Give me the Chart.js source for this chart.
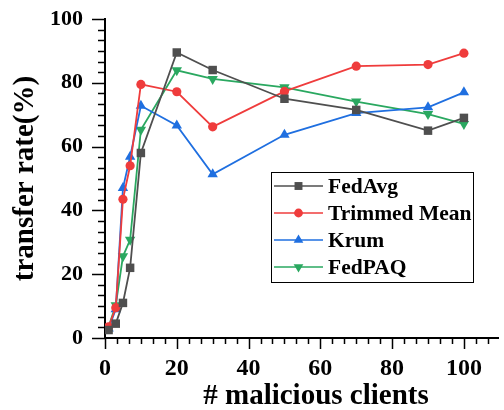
<!DOCTYPE html>
<html>
<head>
<meta charset="utf-8">
<script src="https://cdn.jsdelivr.net/npm/chart.js@4/dist/chart.umd.min.js"></script>
<style>
  html, body { margin: 0; padding: 0; background: #fff; }
  #wrap { width: 504px; height: 410px; }
</style>
</head>
<body>
<div id="wrap"><canvas id="chart" width="504" height="410"></canvas></div>
<script>
// number of malicious clients
const clients = [1, 3, 5, 7, 10, 20, 30, 50, 70, 90, 100]

// transfer rate (%) per aggregation rule
const fedAvg = [2.5, 4.5, 11, 22, 58, 89.5, 84, 75, 71.5, 65, 69]
const trimmedMean = [3.5, 9.5, 43.5, 54, 79.5, 77.2, 66.2, 77.3, 85.2, 85.7, 89.3]
const krum = [3, 9, 47, 56.8, 72.8, 66.6, 51.3, 63.7, 70.5, 72.3, 77]
const fedPAQ = [3.5, 10.3, 25.6, 30.8, 65.3, 83.9, 81.2, 78.6, 74.1, 70.2, 67.1]

const xTicks = [0, 20, 40, 60, 80, 100]
const yTicks = [0, 20, 40, 60, 80, 100]

const SERIF = "'Liberation Serif', 'Times New Roman', serif"

function toPoints(values) {
  return clients.map((c, i) => ({ x: c, y: values[i] }))
}

function makeDataset(label, values, color, style, rotation) {
  return {
    label: label,
    data: toPoints(values),
    borderColor: color,
    backgroundColor: color,
    borderWidth: 1.8,
    pointStyle: style,
    pointRotation: rotation,
    pointRadius: style === 'circle' ? 4.6 : 6,
    pointBorderWidth: 0,
    tension: 0
  }
}

// minor ticks drawn by hand, major ones longer (6 subdivisions per 20)
const axisTicks = {
  id: 'axisTicks',
  afterDraw(chart) {
    const ctx = chart.ctx
    const xs = chart.scales.x
    const ys = chart.scales.y
    const area = chart.chartArea
    ctx.save()
    ctx.strokeStyle = '#000'
    ctx.lineWidth = 1.5
    ctx.beginPath()
    for (let k = 0; k * 20 / 6 <= xs.max + 0.01; k++) {
      const px = Math.round(xs.getPixelForValue(k * 20 / 6)) + 0.5
      const len = k % 6 === 0 ? 11 : 6
      ctx.moveTo(px, area.bottom)
      ctx.lineTo(px, area.bottom + len)
    }
    for (let k = 0; k * 20 / 6 <= ys.max + 0.01; k++) {
      const py = Math.round(ys.getPixelForValue(k * 20 / 6)) + 0.5
      const len = k % 6 === 0 ? 13 : 7
      ctx.moveTo(area.left, py)
      ctx.lineTo(area.left - len, py)
    }
    ctx.stroke()
    ctx.restore()
  }
}

function drawMarker(ctx, style, rotation, x, y, r) {
  ctx.beginPath()
  if (style === 'circle') {
    ctx.arc(x, y, r, 0, Math.PI * 2)
  } else if (style === 'rect') {
    const s = r * Math.SQRT1_2
    ctx.rect(x - s, y - s, 2 * s, 2 * s)
  } else {
    let rad = (rotation || 0) * Math.PI / 180
    for (let i = 0; i < 3; i++) {
      const fx = x + Math.sin(rad) * r
      const fy = y - Math.cos(rad) * r
      if (i === 0) ctx.moveTo(fx, fy)
      else ctx.lineTo(fx, fy)
      rad += 2 * Math.PI / 3
    }
    ctx.closePath()
  }
  ctx.fill()
}

// boxed legend sitting inside the plot, lower right
const boxLegend = {
  id: 'boxLegend',
  afterDraw(chart) {
    const ctx = chart.ctx
    const area = chart.chartArea
    const left = area.left + 166
    const top = area.top + 153
    const w = 202
    const h = 110
    ctx.save()
    ctx.fillStyle = '#fff'
    ctx.fillRect(left, top, w, h)
    ctx.strokeStyle = '#000'
    ctx.lineWidth = 1
    ctx.strokeRect(left + 0.5, top + 0.5, w, h)
    ctx.font = 'bold 21.5px ' + SERIF
    ctx.textBaseline = 'middle'
    chart.data.datasets.forEach((ds, i) => {
      const y = top + 14 + i * 27
      ctx.strokeStyle = ds.borderColor
      ctx.fillStyle = ds.borderColor
      ctx.lineWidth = 1.6
      ctx.beginPath()
      ctx.moveTo(left + 3, y)
      ctx.lineTo(left + 52, y)
      ctx.stroke()
      drawMarker(ctx, ds.pointStyle, ds.pointRotation, left + 27.5, y, ds.pointStyle === 'circle' ? 4.4 : 5.6)
      ctx.fillStyle = '#000'
      ctx.fillText(ds.label, left + 57, y + 1)
    })
    ctx.restore()
  }
}

const ctx = document.getElementById('chart').getContext('2d')

const config = {
  type: 'line',
  data: {
    datasets: [
      makeDataset('FedAvg', fedAvg, '#4f4f4f', 'rect', 0),
      makeDataset('Trimmed Mean', trimmedMean, '#ef3c3c', 'circle', 0),
      makeDataset('Krum', krum, '#1f6fe0', 'triangle', 0),
      makeDataset('FedPAQ', fedPAQ, '#2aa860', 'triangle', 180)
    ]
  },
  options: {
    responsive: false,
    animation: false,
    layout: { padding: { top: 19, right: 4, left: 0, bottom: 0 } },
    plugins: {
      legend: { display: false },
      tooltip: { enabled: false }
    },
    scales: {
      x: {
        type: 'linear',
        min: 0,
        max: 109.5,
        afterBuildTicks: (scale) => { scale.ticks = xTicks.map(v => ({ value: v })) },
        afterFit: (scale) => {
          scale.height = 72
          scale.paddingLeft = 0
          scale.paddingRight = 0
        },
        ticks: {
          color: '#000',
          font: { family: SERIF, size: 24, weight: 'bold' },
          padding: 16,
          maxRotation: 0,
          autoSkip: false
        },
        grid: { drawOnChartArea: false, drawTicks: false },
        border: { color: '#000', width: 2 },
        title: {
          display: true,
          // leading em space nudges the centred title right, as in the original
          text: '\u2003# malicious clients',
          color: '#000',
          font: { family: SERIF, size: 29, weight: 'bold' },
          padding: { top: 0, bottom: -4 }
        }
      },
      y: {
        type: 'linear',
        min: 0,
        max: 100,
        afterBuildTicks: (scale) => { scale.ticks = yTicks.map(v => ({ value: v })) },
        afterFit: (scale) => {
          scale.width = 105
          scale.paddingTop = 0
          scale.paddingBottom = 0
        },
        ticks: {
          color: '#000',
          font: { family: SERIF, size: 22, weight: 'bold' },
          padding: 22
        },
        grid: { drawOnChartArea: false, drawTicks: false },
        border: { color: '#000', width: 2 },
        title: {
          display: true,
          text: 'transfer rate(%)',
          color: '#000',
          font: { family: SERIF, size: 29, weight: 'bold' },
          padding: { top: 8, bottom: 0 }
        }
      }
    }
  },
  plugins: [axisTicks, boxLegend]
}

new Chart(ctx, config)
</script>
</body>
</html>
